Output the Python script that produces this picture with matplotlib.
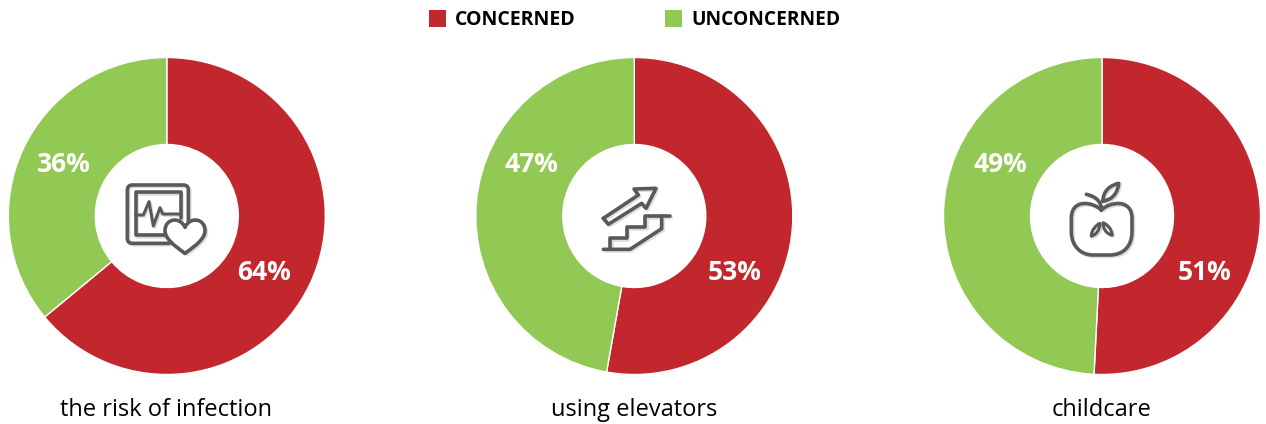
import matplotlib
matplotlib.use('Agg')
import matplotlib.pyplot as plt
from matplotlib.patches import PathPatch, Rectangle
from matplotlib.path import Path

plt.rcParams['font.family'] = ['Open Sans', 'DejaVu Sans']

# 数据
topics = ['the risk of infection', 'using elevators', 'childcare']
concerned = [64.0, 52.8, 50.8]
unconcerned = [36.0, 47.2, 49.2]
legend_labels = ['CONCERNED', 'UNCONCERNED']

RED = '#c1272d'
GREEN = '#92c955'
ICON = '#58595b'
SHADOW = '#dddedf'
W, H = 1266, 424
centers = [166.8, 634.3, 1102]
CY = 216
R = 158.5
HOLE = 71.5
# 百分比文字相对圆心的水平偏移
red_dx = [97.7, 100.2, 102.5]
green_dx = [-103.3, -102.8, -101.5]

fig = plt.figure(figsize=(W / 100, H / 100), dpi=100)

for cx, c, u in zip(centers, concerned, unconcerned):
    ax = fig.add_axes([(cx - R) / W, 1 - (CY + R) / H, 2 * R / W, 2 * R / H])
    wedges, _ = ax.pie([c, u], colors=[RED, GREEN], startangle=90, counterclock=False,
                       radius=1, wedgeprops={'width': 1 - HOLE / R, 'edgecolor': 'white', 'linewidth': 1.0})
    for w in wedges:
        w.set_clip_on(False)
    ax.set_xlim(-1, 1)
    ax.set_ylim(-1, 1)
    ax.axis('off')

# 叠加层，用像素坐标
top = fig.add_axes([0, 0, 1, 1])
top.set_xlim(0, W)
top.set_ylim(H, 0)
top.axis('off')
top.patch.set_alpha(0)


def stroke(ox, oy, pts, lw=2.6):
    # pts 是放大图里的坐标（3倍）
    xs = [ox + p[0] / 3 for p in pts]
    ys = [oy + p[1] / 3 for p in pts]
    top.plot([x + 1.5 for x in xs], [y + 1.5 for y in ys], color=SHADOW, lw=lw,
             solid_capstyle='round', solid_joinstyle='round', zorder=3)
    top.plot(xs, ys, color=ICON, lw=lw, solid_capstyle='round', solid_joinstyle='round', zorder=4)


def curve(ox, oy, verts, codes, lw=2.6, face='none', z=4):
    v = [(ox + x / 3, oy + y / 3) for x, y in verts]
    top.add_patch(PathPatch(Path([(x + 1.5, y + 1.5) for x, y in v], codes), fc='none', ec=SHADOW, lw=lw, zorder=z - 1))
    top.add_patch(PathPatch(Path(v, codes), fc=face, ec=ICON, lw=lw, zorder=z, capstyle='round', joinstyle='round'))


M, L, C = Path.MOVETO, Path.LINETO, Path.CURVE4

# 图标1 显示器和心形
ox, oy = 90, 140
curve(ox, oy,
      [(295, 245), (295, 150), (295, 140), (290, 135), (280, 135), (127, 135), (118, 135), (112, 140), (112, 150),
       (112, 295), (112, 305), (118, 310), (127, 310), (240, 310)],
      [M, L, C, C, C, L, C, C, C, L, C, C, C, L])
stroke(ox, oy, [(272, 235), (272, 157), (137, 157), (137, 285), (222, 285)])
stroke(ox, oy, [(137, 225), (160, 225), (177, 185), (190, 258), (210, 203), (218, 222), (272, 222)], lw=2.2)
curve(ox, oy,
      [(285, 340), (250, 315), (225, 295), (225, 272), (225, 235), (270, 228), (285, 262),
       (300, 228), (345, 235), (345, 272), (345, 295), (320, 315), (285, 340)],
      [M, C, C, C, C, C, C, C, C, C, C, C, C], face='white', z=6)

# 图标2 楼梯和箭头
ox, oy = 560, 140
stroke(ox, oy, [(130, 235), (145, 253), (245, 190), (258, 205), (288, 145), (222, 147), (235, 165), (130, 235)])
stroke(ox, oy, [(130, 328), (210, 328), (305, 266), (305, 228), (330, 228)])
stroke(ox, oy, [(150, 328), (150, 295), (200, 295), (200, 262), (255, 262), (255, 228), (305, 228)])

# 图标3 苹果
ox, oy = 1028, 140
curve(ox, oy,
      [(220, 210), (195, 185), (130, 175), (130, 235), (130, 275), (130, 320), (160, 345), (195, 345),
       (245, 345), (285, 345), (312, 320), (312, 275), (312, 235), (312, 175), (245, 185), (220, 210)],
      [M, C, C, C, L, C, C, C, L, C, C, C, L, C, C, C])
curve(ox, oy, [(175, 163), (205, 170), (220, 185), (220, 210)], [M, C, C, C])
curve(ox, oy, [(225, 183), (225, 150), (250, 135), (272, 130), (270, 155), (255, 180), (225, 183)],
      [M, C, C, C, C, C, C])
curve(ox, oy, [(190, 288), (190, 270), (205, 255), (215, 250), (217, 268), (205, 285), (190, 288)],
      [M, C, C, C, C, C, C], lw=2.2)
curve(ox, oy, [(252, 285), (252, 268), (238, 253), (225, 248), (224, 265), (235, 282), (252, 285)],
      [M, C, C, C, C, C, C], lw=2.2)

for i, cx in enumerate(centers):
    top.text(cx + red_dx[i], 272, f'{concerned[i]:.0f}%', color='white', fontsize=19, fontweight='bold',
             ha='center', va='center')
    top.text(cx + green_dx[i], 165, f'{unconcerned[i]:.0f}%', color='white', fontsize=19, fontweight='bold',
             ha='center', va='center')
    top.text(cx - 0.5, 410, topics[i], color='black', fontsize=17, ha='center', va='center')

# 图例
top.add_patch(Rectangle((429, 10), 16.5, 16.5, fc=RED, ec='none'))
top.text(455, 20, legend_labels[0], fontsize=14, fontweight='bold', color='black', ha='left', va='center')
top.add_patch(Rectangle((665, 10), 16.5, 16.5, fc=GREEN, ec='none'))
top.text(691, 20, legend_labels[1], fontsize=13.8, fontweight='bold', color='black', ha='left', va='center')

fig.savefig('out.png', dpi=100)
